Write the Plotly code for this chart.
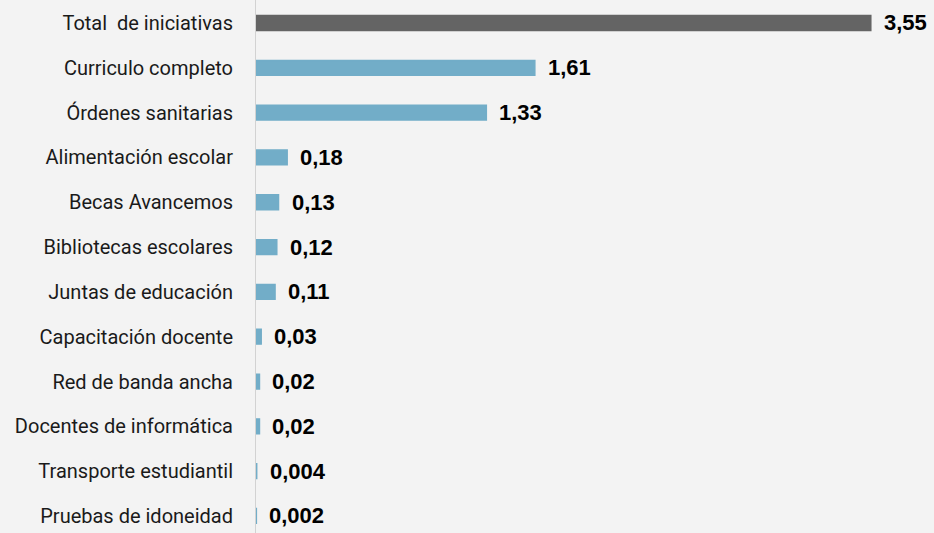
import plotly.graph_objects as go

categories = ["Total\u00a0 de iniciativas", "Curriculo completo", "Órdenes sanitarias",
              "Alimentación escolar", "Becas Avancemos", "Bibliotecas escolares",
              "Juntas de educación", "Capacitación docente", "Red de banda ancha",
              "Docentes de informática", "Transporte estudiantil", "Pruebas de idoneidad"]
values = [3.55, 1.61, 1.33, 0.18, 0.13, 0.12, 0.11, 0.03, 0.02, 0.02, 0.004, 0.002]
labels = ["3,55", "1,61", "1,33", "0,18", "0,13", "0,12", "0,11", "0,03", "0,02", "0,02", "0,004", "0,002"]

colors = ["#646464"] + ["#72adc8"] * (len(values) - 1)

fig = go.Figure()
fig.add_trace(go.Bar(
    y=categories, x=values, orientation="h",
    marker=dict(color=colors, line=dict(color=colors, width=1.5)),
    width=0.33, hoverinfo="skip",
))
for c, v, t in zip(categories, values, labels):
    fig.add_annotation(x=v, y=c, text="<b>" + t + "</b>", showarrow=False,
                       xanchor="left", yanchor="middle", xshift=11, yshift=0,
                       font=dict(family="Liberation Sans, Arial, sans-serif", size=22, color="#000000"))

fig.update_layout(
    width=934, height=533,
    margin=dict(l=256, r=0, t=0, b=0),
    paper_bgcolor="#f3f3f3", plot_bgcolor="rgba(0,0,0,0)",
    showlegend=False,
)
fig.update_xaxes(range=[0, 3.915], visible=False)
fig.update_yaxes(range=[11.38, -0.513], showline=True, linecolor="#d2d2d2", linewidth=1,
                 showgrid=False, ticks="", ticklabelstandoff=18,
                 tickfont=dict(family="Roboto, sans-serif", size=20, color="#1a1a1a"))

fig.write_html("out.html", config={"displayModeBar": False},
               post_script="document.body.style.margin='0';document.body.style.background='#f3f3f3';")
